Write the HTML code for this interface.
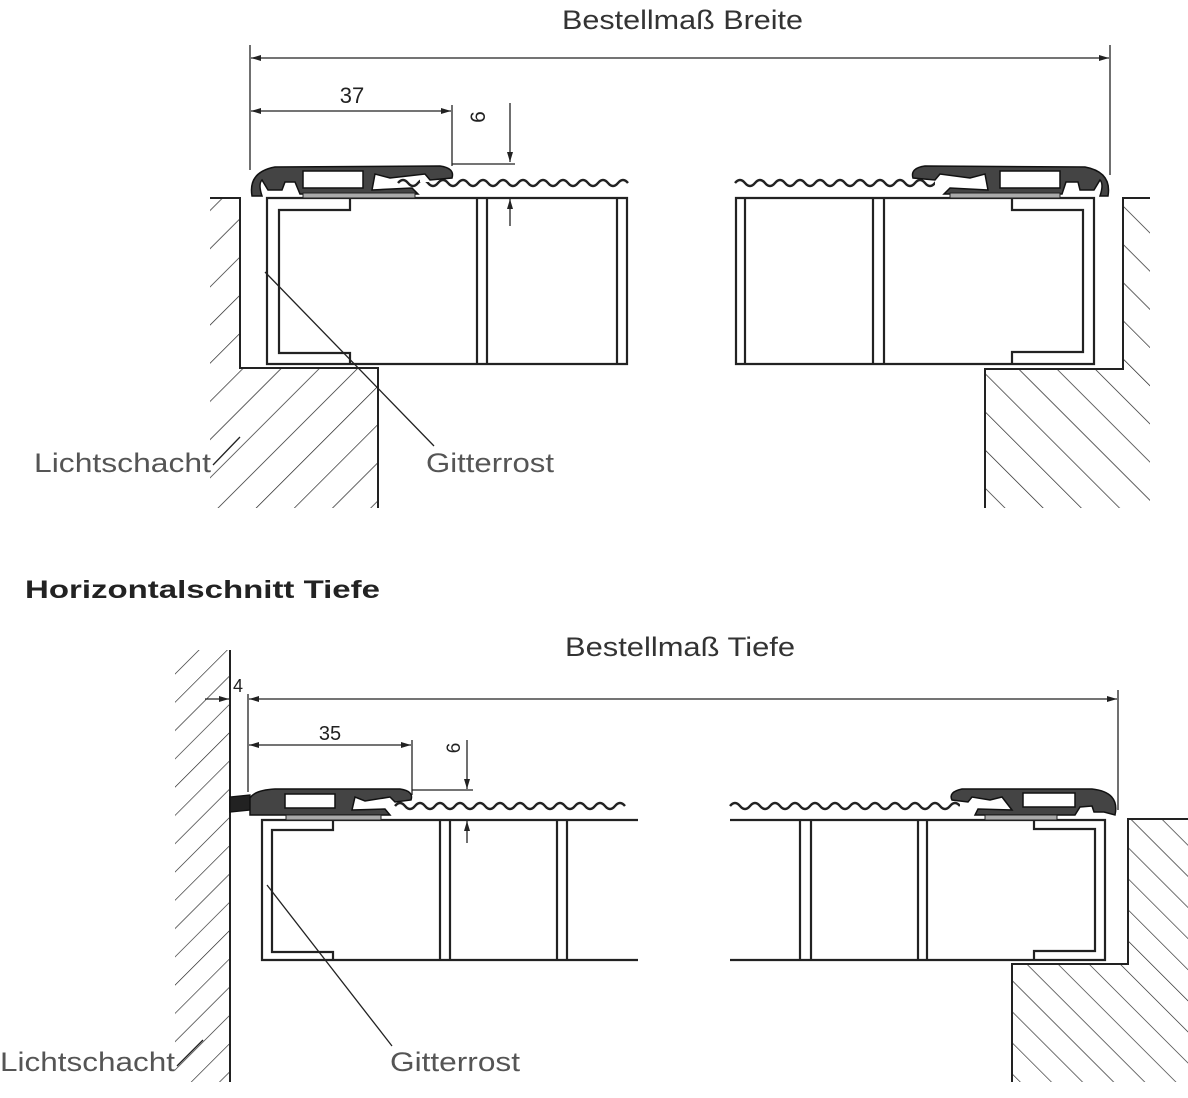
<!DOCTYPE html>
<html><head><meta charset="utf-8"><style>
html,body{margin:0;padding:0;background:#fff;}
svg{display:block;}
text{font-family:"Liberation Sans",sans-serif;}
</style></head><body>
<svg width="1188" height="1098" viewBox="0 0 1188 1098" xmlns="http://www.w3.org/2000/svg">
<defs>
<pattern id="hf" width="27" height="27" patternUnits="userSpaceOnUse" patternTransform="rotate(45)">
<line x1="0" y1="0" x2="0" y2="27" stroke="#222" stroke-width="1.4"/></pattern>
<pattern id="hb" width="27" height="27" patternUnits="userSpaceOnUse" patternTransform="rotate(-45)">
<line x1="0" y1="0" x2="0" y2="27" stroke="#222" stroke-width="1.4"/></pattern>
<pattern id="hf2" width="20" height="20" patternUnits="userSpaceOnUse" patternTransform="rotate(45)">
<line x1="0" y1="0" x2="0" y2="20" stroke="#222" stroke-width="1.3"/></pattern>
<pattern id="hb2" width="22" height="22" patternUnits="userSpaceOnUse" patternTransform="rotate(-45)">
<line x1="0" y1="0" x2="0" y2="22" stroke="#222" stroke-width="1.3"/></pattern>
<marker id="a" viewBox="0 0 10 6" refX="10" refY="3" markerWidth="10" markerHeight="6" orient="auto-start-reverse" markerUnits="userSpaceOnUse">
<path d="M0,0 L10,3 L0,6 Z" fill="#222"/></marker>
<path id="wave" d="M0,0 q5,-6 10,0 t10,0 t10,0 t10,0 t10,0 t10,0 t10,0 t10,0 t10,0 t10,0 t10,0 t10,0 t10,0 t10,0 t10,0 t10,0 t10,0 t10,0 t10,0 t10,0 t10,0 t10,0 t10,0" fill="none" stroke="#222" stroke-width="2.5"/>
</defs>

<g stroke="#222" fill="none" stroke-width="1.3">
<!-- TOP -->
<text x="562" y="29" font-size="27" fill="#333" stroke="none" textLength="241" lengthAdjust="spacingAndGlyphs">Bestellmaß Breite</text>
<line x1="250" y1="45" x2="250" y2="170"/>
<line x1="1110" y1="45" x2="1110" y2="175"/>
<line x1="251" y1="58" x2="1109" y2="58" marker-start="url(#a)" marker-end="url(#a)"/>
<text x="352" y="103" font-size="22" fill="#222" stroke="none" text-anchor="middle">37</text>
<line x1="251" y1="111" x2="451" y2="111" marker-start="url(#a)" marker-end="url(#a)"/>
<line x1="452" y1="105" x2="452" y2="166"/>
<text x="0" y="0" font-size="21" fill="#222" stroke="none" text-anchor="middle" transform="translate(485,117) rotate(-90)">6</text>
<line x1="510" y1="103" x2="510" y2="162" marker-end="url(#a)"/>
<line x1="510" y1="226" x2="510" y2="199" marker-end="url(#a)"/>
<line x1="452" y1="164" x2="515" y2="164"/>

<!-- left wall -->
<path d="M210,198 L240,198 L240,368 L378,368 L378,508 L210,508 Z" fill="url(#hf)" stroke="none"/>
<path d="M210,198 L240,198 L240,368 L378,368 L378,508" stroke-width="2"/>
<!-- left grate -->
<g stroke-width="2.2">
<path d="M627,198 L267,198 L267,364 L627,364 Z"/>
<path d="M350,198 L350,210 L279,210 L279,353 L350,353 L350,364"/>
<line x1="477" y1="198" x2="477" y2="364"/><line x1="487" y1="198" x2="487" y2="364"/>
<line x1="617" y1="198" x2="617" y2="364"/>
</g>
<use href="#wave" x="398" y="183"/>
<rect x="420" y="170" width="12" height="12" fill="#fff" stroke="none"/>
<path d="M252,196 Q248,172 275,167 L440,166 Q455,168 452,178 L430,180 L425,174 L390,178 L375,174 L372,190 L412,188 L418,194 L300,194 L295,182 L285,182 L282,190 L268,190 L262,180 Q258,184 262,196 Z" fill="#444" stroke="#111" stroke-width="1.5"/>
<rect x="303" y="171" width="60" height="17" fill="#fff" stroke="#111" stroke-width="1.5"/>
<rect x="303" y="193" width="112" height="5" fill="#aaa" stroke="#222" stroke-width="1"/>

<!-- right wall -->
<path d="M1150,198 L1123,198 L1123,369 L985,369 L985,508 L1150,508 Z" fill="url(#hb)" stroke="none"/>
<path d="M1150,198 L1123,198 L1123,369 L985,369 L985,508" stroke-width="2"/>
<g stroke-width="2.2">
<path d="M736,198 L1094,198 L1094,364 L736,364 Z"/>
<path d="M1012,198 L1012,210 L1083,210 L1083,352 L1012,352 L1012,364"/>
<line x1="745" y1="198" x2="745" y2="364"/>
<line x1="873" y1="198" x2="873" y2="364"/><line x1="884" y1="198" x2="884" y2="364"/>
</g>
<use href="#wave" x="735" y="183"/>
<rect x="935" y="170" width="40" height="20" fill="#fff" stroke="none"/>
<path d="M1108,196 Q1112,172 1085,167 L925,166 Q910,168 913,178 L935,180 L940,174 L970,178 L985,174 L988,190 L950,188 L944,194 L1062,194 L1066,182 L1078,182 L1080,190 L1094,190 L1100,180 Q1104,184 1100,196 Z" fill="#444" stroke="#111" stroke-width="1.5"/>
<rect x="1000" y="171" width="60" height="17" fill="#fff" stroke="#111" stroke-width="1.5"/>
<rect x="950" y="193" width="110" height="5" fill="#aaa" stroke="#222" stroke-width="1"/>

<!-- labels top -->
<text x="34" y="472" font-size="27" fill="#555" stroke="none" textLength="177" lengthAdjust="spacingAndGlyphs">Lichtschacht</text>
<line x1="213" y1="465" x2="240" y2="437"/>
<text x="426" y="472" font-size="27" fill="#555" stroke="none" textLength="128" lengthAdjust="spacingAndGlyphs">Gitterrost</text>
<line x1="434" y1="446" x2="265" y2="272"/>

<!-- BOTTOM -->
<text x="25" y="598" font-size="25" font-weight="bold" fill="#222" stroke="none" textLength="355" lengthAdjust="spacingAndGlyphs">Horizontalschnitt Tiefe</text>
<text x="565" y="656" font-size="27" fill="#333" stroke="none" textLength="230" lengthAdjust="spacingAndGlyphs">Bestellmaß Tiefe</text>

<path d="M175,650 L230,650 L230,1082 L175,1082 Z" fill="url(#hf2)" stroke="none"/>
<line x1="230" y1="650" x2="230" y2="1082" stroke-width="2"/>
<text x="238" y="692" font-size="18" fill="#222" stroke="none" text-anchor="middle">4</text>
<line x1="205" y1="699" x2="229" y2="699" marker-end="url(#a)"/>
<line x1="1117" y1="699" x2="249" y2="699" marker-start="url(#a)" marker-end="url(#a)"/>
<line x1="248" y1="694" x2="248" y2="792"/>
<line x1="1118" y1="690" x2="1118" y2="810"/>
<text x="330" y="740" font-size="20" fill="#222" stroke="none" text-anchor="middle">35</text>
<line x1="249" y1="745" x2="411" y2="745" marker-start="url(#a)" marker-end="url(#a)"/>
<line x1="412" y1="740" x2="412" y2="795"/>
<text x="0" y="0" font-size="19" fill="#222" stroke="none" text-anchor="middle" transform="translate(460,748) rotate(-90)">6</text>
<line x1="467" y1="740" x2="467" y2="789" marker-end="url(#a)"/>
<line x1="467" y1="843" x2="467" y2="821" marker-end="url(#a)"/>
<line x1="412" y1="790" x2="473" y2="790"/>

<g stroke-width="2.2">
<path d="M638,820 L262,820 L262,960 L638,960"/>
<path d="M333,820 L333,830 L272,830 L272,952 L333,952 L333,960"/>
<line x1="440" y1="820" x2="440" y2="960"/><line x1="450" y1="820" x2="450" y2="960"/>
<line x1="557" y1="820" x2="557" y2="960"/><line x1="567" y1="820" x2="567" y2="960"/>
</g>
<use href="#wave" x="395" y="806"/>
<rect x="380" y="795" width="14" height="14" fill="#fff" stroke="none"/>
<path d="M230,797 L250,795 L250,810 L230,812 Z" fill="#222" stroke="#111"/>
<path d="M250,812 L250,798 Q255,790 275,789 L400,789 Q414,791 411,800 L395,802 L390,797 L365,801 L355,797 L352,810 L385,809 L390,815 L250,815 Z" fill="#444" stroke="#111" stroke-width="1.5"/>
<rect x="285" y="794" width="50" height="14" fill="#fff" stroke="#111" stroke-width="1.5"/>
<rect x="286" y="815" width="95" height="5" fill="#aaa" stroke="#222" stroke-width="1"/>

<path d="M1188,819 L1128,819 L1128,964 L1012,964 L1012,1082 L1188,1082 Z" fill="url(#hb2)" stroke="none"/>
<path d="M1188,819 L1128,819 L1128,964 L1012,964 L1012,1082" stroke-width="2"/>
<g stroke-width="2.2">
<path d="M730,820 L1105,820 L1105,960 L730,960"/>
<path d="M1034,820 L1034,829 L1095,829 L1095,951 L1034,951 L1034,960"/>
<line x1="800" y1="820" x2="800" y2="960"/><line x1="811" y1="820" x2="811" y2="960"/>
<line x1="918" y1="820" x2="918" y2="960"/><line x1="927" y1="820" x2="927" y2="960"/>
</g>
<use href="#wave" x="730" y="806"/>
<rect x="960" y="795" width="40" height="14" fill="#fff" stroke="none"/>
<path d="M1115,815 Q1120,792 1092,789 L962,789 Q948,792 952,800 L968,802 L972,797 L990,800 L1002,797 L1012,810 L978,809 L975,815 L1075,815 L1080,807 L1092,806 L1094,812 L1104,812 Z" fill="#444" stroke="#111" stroke-width="1.5"/>
<rect x="1023" y="793" width="52" height="14" fill="#fff" stroke="#111" stroke-width="1.5"/>
<rect x="985" y="815" width="72" height="5" fill="#aaa" stroke="#222" stroke-width="1"/>

<text x="0" y="1071" font-size="27" fill="#555" stroke="none" textLength="175" lengthAdjust="spacingAndGlyphs">Lichtschacht</text>
<line x1="177" y1="1066" x2="203" y2="1040"/>
<text x="390" y="1071" font-size="27" fill="#555" stroke="none" textLength="130" lengthAdjust="spacingAndGlyphs">Gitterrost</text>
<line x1="392" y1="1046" x2="267" y2="885"/>
</g>
</svg>
</body></html>
